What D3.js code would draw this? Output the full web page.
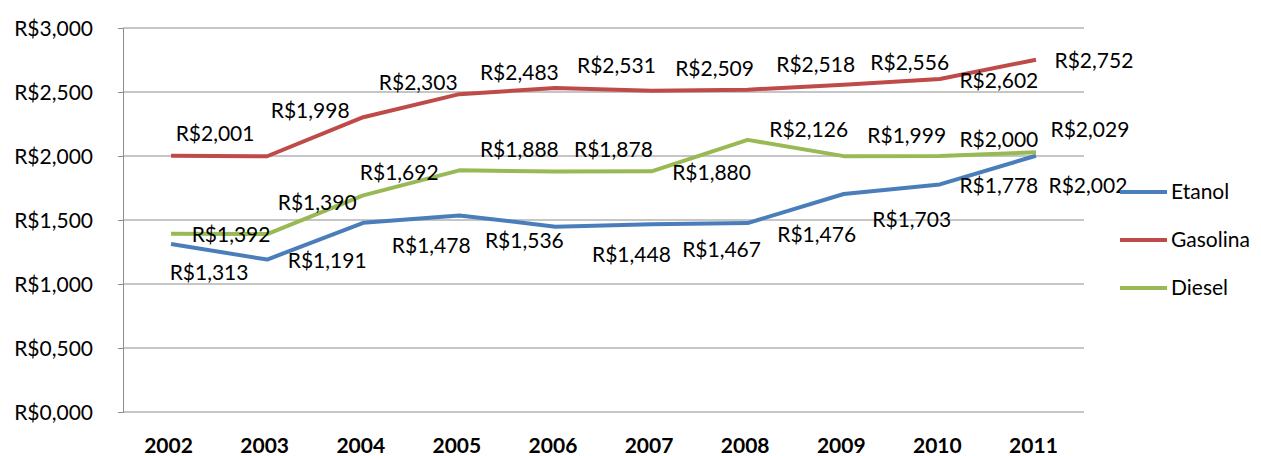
<!DOCTYPE html>
<html>
<head>
<meta charset="utf-8">
<title>Preço dos combustíveis</title>
<script src="https://d3js.org/d3.v7.min.js"></script>
<style>
    body {
        margin: 0;
        background: white;
        font-family: 'Lato', sans-serif;
    }
    .grid line {
        stroke: #8c8c8c;
        stroke-width: 1px;
    }
    .axis text {
        font-family: 'Lato', sans-serif;
        font-size: 21px;
        fill: #000;
    }
    .xaxis text {
        font-weight: 700;
    }
    .dataLabel {
        font-size: 21px;
        fill: #000;
    }
    .legendLabel {
        font-size: 21px;
        fill: #000;
    }
</style>
</head>
<body>
    <svg id="chart" width="1261" height="456"></svg>
    <script>
        // values
        var years = ["2002", "2003", "2004", "2005", "2006", "2007", "2008", "2009", "2010", "2011"];
        var etanol   = [1.313, 1.191, 1.478, 1.536, 1.448, 1.467, 1.476, 1.703, 1.778, 2.002];
        var gasolina = [2.001, 1.998, 2.303, 2.483, 2.531, 2.509, 2.518, 2.556, 2.602, 2.752];
        var diesel   = [1.392, 1.390, 1.692, 1.888, 1.878, 1.880, 2.126, 1.999, 2.000, 2.029];
        var yTicks = [0, 0.5, 1, 1.5, 2, 2.5, 3];
        var seriesNames = ["Etanol", "Gasolina", "Diesel"];

        // where excel dropped each data label, relative to its point [dx, dy of baseline]
        var etanolLabelOff   = [[38,36],[60,8],[68,30],[65,33],[76,35],[70,33],[69,19],[68,33],[59,9],[52,37]];
        var gasolinaLabelOff = [[44,-15],[43,-38],[55,-27],[60,-14],[61,-15],[63,-15],[68,-18],[66,-15],[59,9],[58,8]];
        var dieselLabelOff   = [[60,8],[50,-24],[36,-15],[60,-13],[58,-15],[60,9],[61,-3],[63,-13],[59,-9],[54,-15]];

        var colors = ["#4a7ebb", "#be4b48", "#98b954"];

        var svg = d3.select("svg#chart");
        const margin = { top: 28, right: 177, bottom: 44, left: 123 };
        const width = 1261, height = 456;

        var x = d3.scalePoint()
            .domain(years)
            .range([margin.left, width - margin.right])
            .padding(0.5);
        var y = d3.scaleLinear()
            .domain([0, 3])
            .range([height - margin.bottom, margin.top]);

        var fmt = v => "R$" + d3.format(".3f")(v).replace(".", ",");

        // gridlines
        svg.append("g")
            .attr("class", "grid")
            .selectAll("line")
            .data(yTicks.slice(1))
            .enter()
            .append("line")
            .attr("x1", margin.left)
            .attr("x2", width - margin.right)
            .attr("y1", d => y(d))
            .attr("y2", d => y(d));

        // y axis
        var yAxis = d3.axisLeft(y).tickValues(yTicks).tickSize(5).tickPadding(25).tickFormat(fmt);
        var gy = svg.append("g")
            .attr("class", "axis")
            .attr("transform", "translate(" + margin.left + ",0)")
            .call(yAxis);
        gy.select(".domain").attr("stroke", "#8c8c8c");
        gy.selectAll(".tick line").attr("stroke", "#8c8c8c");
        gy.selectAll("text").attr("dy", "0.34em");

        // x axis
        var xAxis = d3.axisBottom(x).tickSize(0).tickPadding(26);
        var gx = svg.append("g")
            .attr("class", "axis xaxis")
            .attr("transform", "translate(0," + (height - margin.bottom) + ")")
            .call(xAxis);
        gx.select(".domain").attr("stroke", "#8c8c8c").attr("d", "M" + margin.left + ",0H" + (width - margin.right));
        gx.selectAll("text").attr("dx", "-3");

        var series = [
            { name: seriesNames[0], values: etanol, off: etanolLabelOff },
            { name: seriesNames[1], values: gasolina, off: gasolinaLabelOff },
            { name: seriesNames[2], values: diesel, off: dieselLabelOff }
        ];

        var line = d3.line()
            .x((d, i) => x(years[i]))
            .y(d => y(d));

        series.forEach((s, k) => {
            svg.append("path")
                .datum(s.values)
                .attr("fill", "none")
                .attr("stroke", colors[k])
                .attr("stroke-width", 4)
                .attr("stroke-linejoin", "round")
                .attr("d", line);
        });

        // data labels drawn after all lines
        series.forEach((s, k) => {
            svg.append("g")
                .selectAll("text")
                .data(s.values)
                .enter()
                .append("text")
                .attr("class", "dataLabel")
                .attr("text-anchor", "middle")
                .attr("x", (d, i) => x(years[i]) + s.off[i][0])
                .attr("y", (d, i) => y(d) + s.off[i][1])
                .text(d => fmt(d));
        });

        // legend
        var legend = svg.append("g").attr("transform", "translate(1120,192)");
        seriesNames.forEach((n, k) => {
            var row = legend.append("g").attr("transform", "translate(0," + (k * 48) + ")");
            row.append("line")
                .attr("x1", 0).attr("x2", 47)
                .attr("y1", 0).attr("y2", 0)
                .attr("stroke", colors[k])
                .attr("stroke-width", 4);
            row.append("text")
                .attr("class", "legendLabel")
                .attr("x", 51)
                .attr("y", 7)
                .text(n);
        });
    </script>
</body>
</html>
